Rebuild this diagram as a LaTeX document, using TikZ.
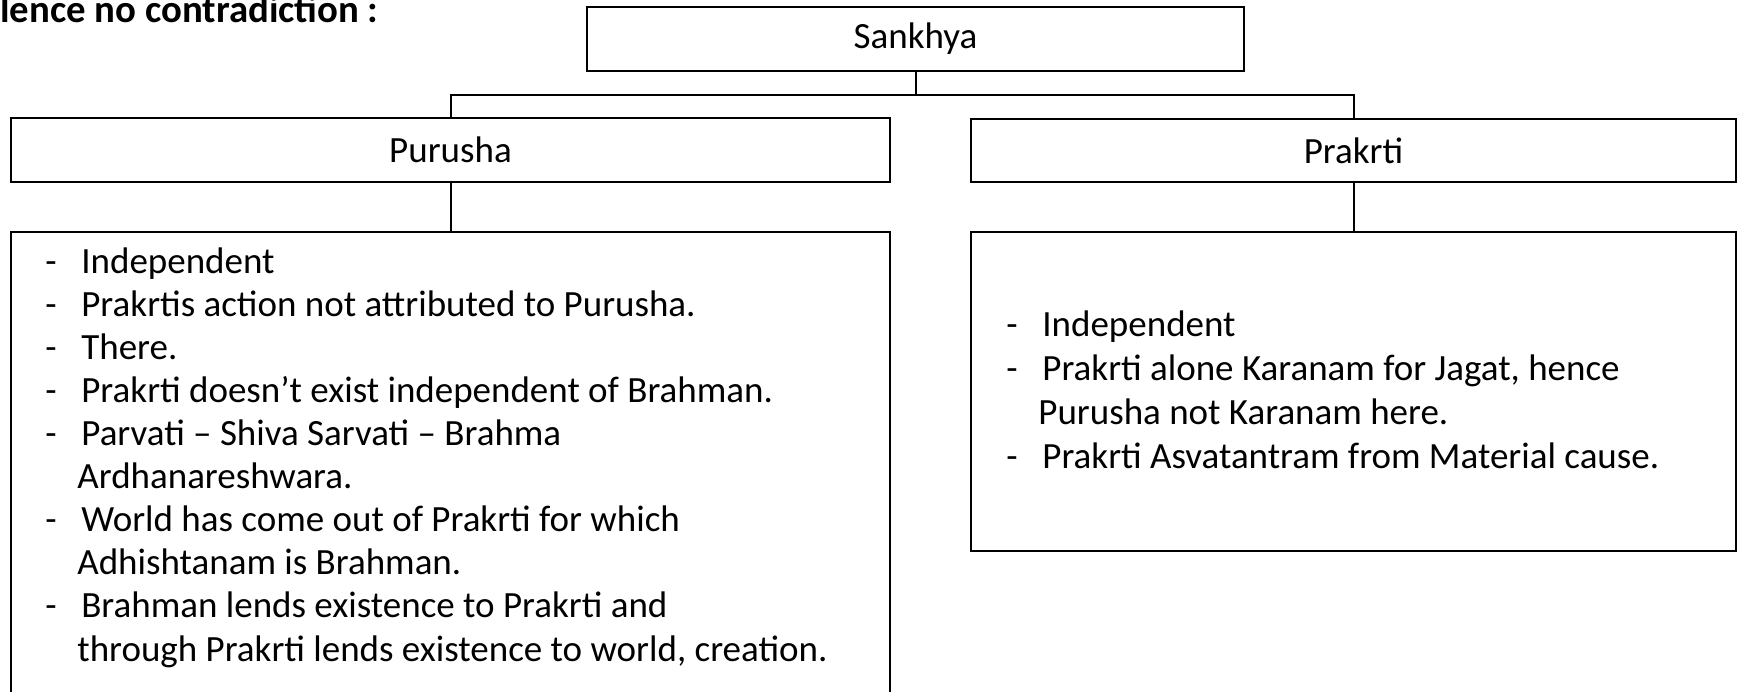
\documentclass[tikz,border=0pt]{standalone}
\usepackage{fontspec}
\setmainfont{Carlito}
\usepackage{tikz}
\usetikzlibrary{positioning}

% dash that opens a point, with the text hung after it
\newcommand{\pointdash}{\makebox[18pt][l]{-}}
\newcommand{\hangon}{\hspace*{16pt}}

\begin{document}
\begin{tikzpicture}[
  x=0.5pt, y=-0.5pt,
  every node/.style={font=\fontsize{18.5}{21.55}\selectfont},
  box/.style={draw, line width=1pt, inner sep=0pt},
  link/.style={line width=1pt},
  points/.style={align=left, inner sep=0pt, anchor=base west},
]
\useasboundingbox (0,0) rectangle (1738,691);

\node[anchor=base west, inner sep=0pt, font=\fontsize{19.4}{22}\selectfont\bfseries] (title) at (0,22) {lence no contradiction :};

\node[box, minimum width=328.5pt, minimum height=32pt] (sankhya) at (915.5,39) {Sankhya};
\node[box, minimum width=439.5pt, minimum height=32pt] (purusha) at (450.5,150) {Purusha};
\node[box, minimum width=382.5pt, minimum height=31.5pt] (prakrti) at (1353.5,150.5) {Prakrti};

\node[box, anchor=north, minimum width=439.5pt, minimum height=250pt] (purushalist) at (450.5,230.5) {};
\node[box, anchor=north, minimum width=382.5pt, minimum height=159.5pt] (prakrtilist) at (1353.5,230.5) {};

\coordinate (bus) at (915.5,95);
\draw[link] (sankhya.south) -- (bus);
\draw[link] (purusha.north) |- (bus) -| (prakrti.north);
\draw[link] (purusha.south) -- (purushalist.north);
\draw[link] (prakrti.south) -- (prakrtilist.north);

% base of a many-line node is the base of its last line
\node[points] (purushatext) at (45,661) {%
  \pointdash Independent\\
  \pointdash Prakrtis action not attributed to Purusha.\\
  \pointdash There.\\
  \pointdash Prakrti doesn’t exist independent of Brahman.\\
  \pointdash Parvati – Shiva Sarvati – Brahma\\
  \hangon Ardhanareshwara.\\
  \pointdash World has come out of Prakrti for which\\
  \hangon Adhishtanam is Brahman.\\
  \pointdash Brahman lends existence to Prakrti and\\
  \hangon through Prakrti lends existence to world, creation.};

\node[points, font=\fontsize{18.5}{21.85}\selectfont] (prakrtitext) at (1006,468) {%
  \pointdash Independent\\
  \pointdash Prakrti alone Karanam for Jagat, hence\\
  \hangon Purusha not Karanam here.\\
  \pointdash Prakrti Asvatantram from Material cause.};
\end{tikzpicture}
\end{document}
